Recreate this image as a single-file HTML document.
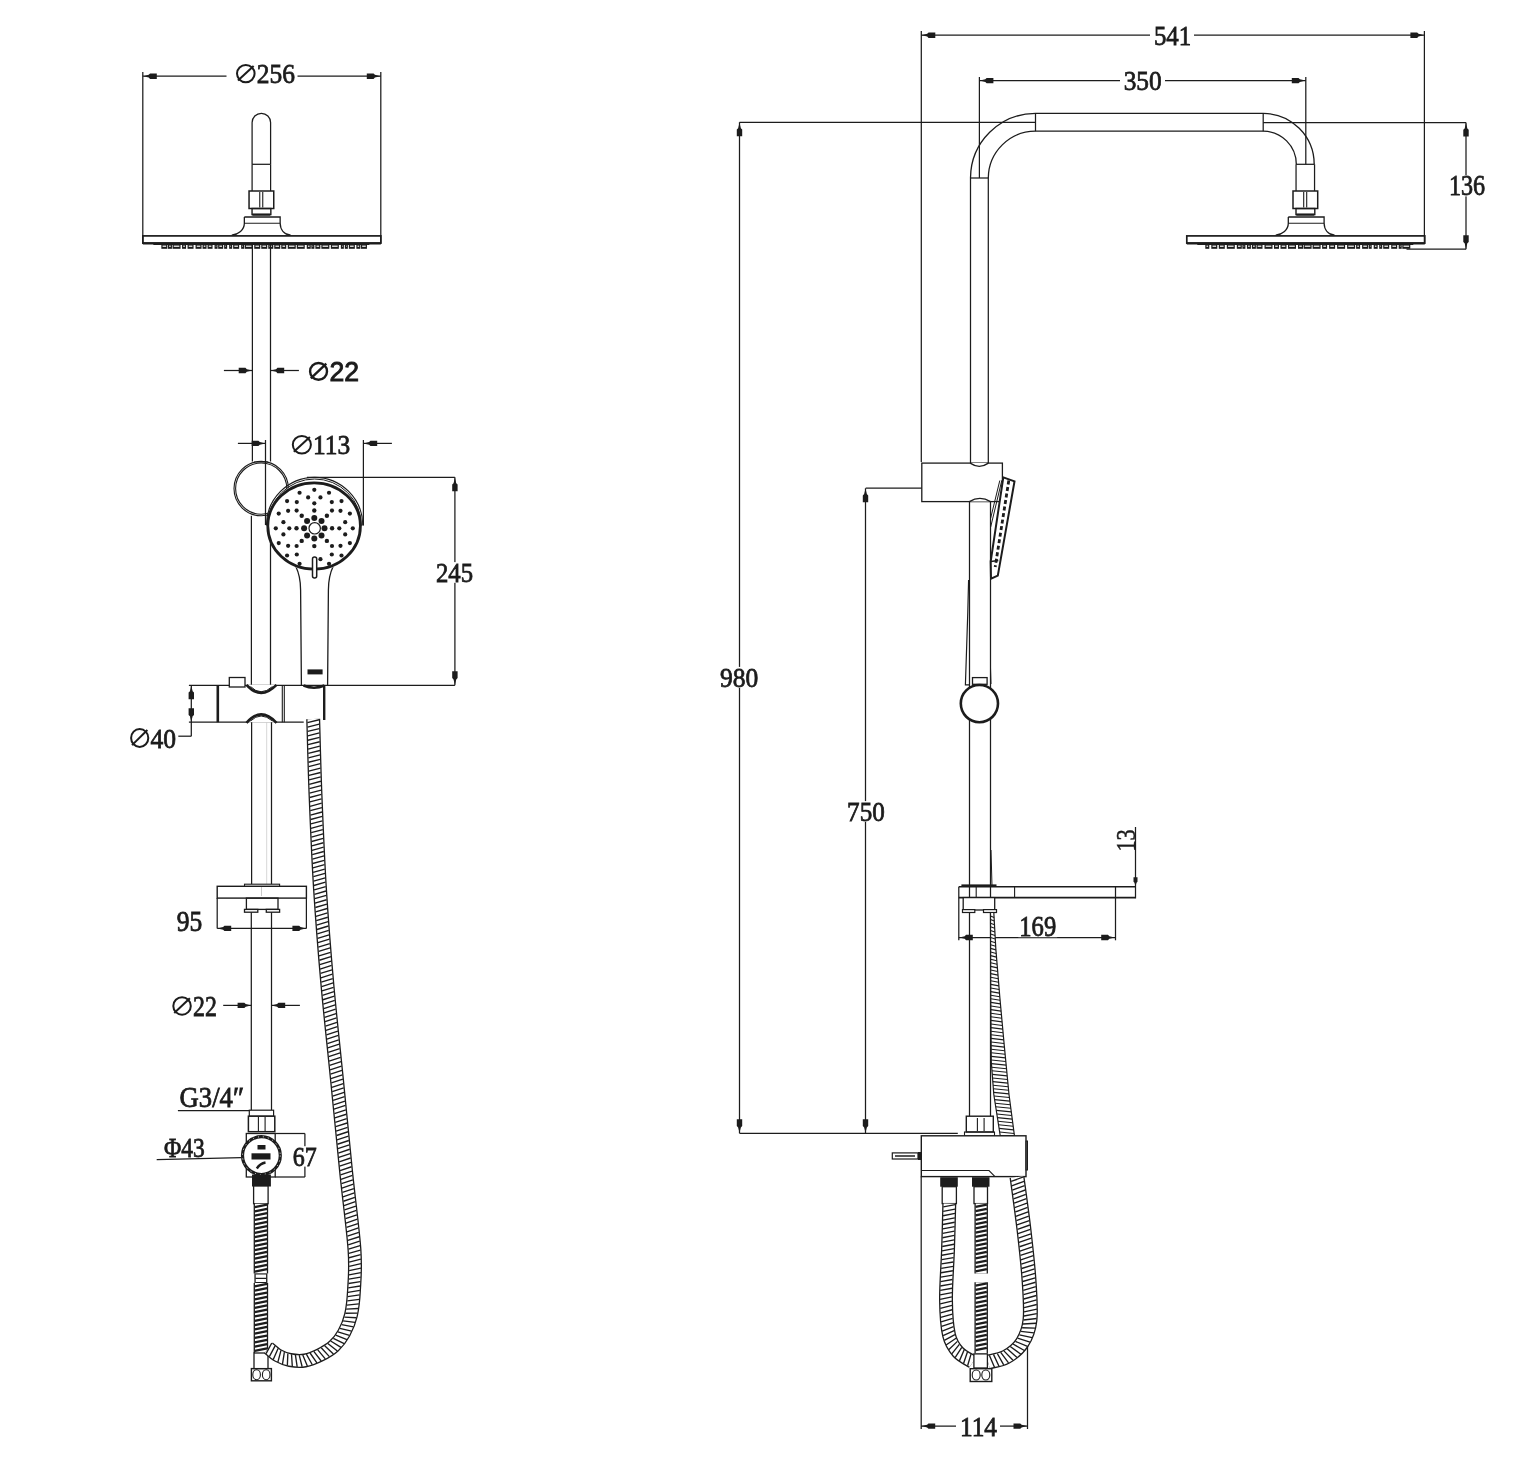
<!DOCTYPE html>
<html><head><meta charset="utf-8"><style>
html,body{margin:0;padding:0;background:#fff;}
body{width:1519px;height:1481px;overflow:hidden;}
svg{display:block;will-change:transform;}
</style></head><body>
<svg width="1519" height="1481" viewBox="0 0 1519 1481">
<rect width="1519" height="1481" fill="#fff"/>
<line x1="142.8" y1="72" x2="142.8" y2="243.5" stroke="#1c1c1c" stroke-width="1.25" />
<line x1="380.8" y1="72" x2="380.8" y2="243.5" stroke="#1c1c1c" stroke-width="1.25" />
<line x1="142.8" y1="76.2" x2="226.5" y2="76.2" stroke="#1c1c1c" stroke-width="1.25" />
<line x1="297.5" y1="76.2" x2="380.8" y2="76.2" stroke="#1c1c1c" stroke-width="1.25" />
<path d="M143.3,76.2 L148.7,74.85 L150.05,73.5 L156.8,73.5 L156.8,78.9 L150.05,78.9 L148.7,77.55 Z" fill="#1c1c1c"/>
<path d="M380.3,76.2 L374.9,77.55 L373.55,78.9 L366.8,78.9 L366.8,73.5 L373.55,73.5 L374.9,74.85 Z" fill="#1c1c1c"/>
<rect x="235" y="63" width="61" height="21.2" fill="#fff"/>
<ellipse cx="245.8" cy="73.6" rx="8.8" ry="8.6" stroke="#1c1c1c" stroke-width="2.0" fill="none"/>
<line x1="237.96" y1="80.51" x2="253.64" y2="65.92" stroke="#1c1c1c" stroke-width="2.0"/>
<text x="256.8" y="82.9" font-family="Liberation Serif" font-size="27.91" font-weight="normal" textLength="38.2" lengthAdjust="spacingAndGlyphs" fill="#1c1c1c" stroke="#1c1c1c" stroke-width="0.8" >256</text>
<path d="M252.1,164.3 V122.55 A9.25,9.25 0 0 1 270.6,122.55 V164.3" stroke="#1c1c1c" stroke-width="1.25" fill="none" />
<line x1="252.1" y1="164.3" x2="270.6" y2="164.3" stroke="#1c1c1c" stroke-width="1.25" />
<line x1="252.1" y1="164.3" x2="252.1" y2="191" stroke="#1c1c1c" stroke-width="1.25" />
<line x1="270.6" y1="164.3" x2="270.6" y2="191" stroke="#1c1c1c" stroke-width="1.25" />
<rect x="249.05" y="191" width="24.7" height="17.5" stroke="#1c1c1c" stroke-width="1.5" fill="none" />
<line x1="259.75" y1="192" x2="259.75" y2="207.5" stroke="#1c1c1c" stroke-width="1.1" />
<line x1="262.75" y1="192" x2="262.75" y2="207.5" stroke="#1c1c1c" stroke-width="1.1" />
<rect x="252.05" y="208.5" width="18.8" height="6.1" stroke="#1c1c1c" stroke-width="1.4" fill="none" />
<line x1="252.35" y1="214.6" x2="270.35" y2="214.6" stroke="#1c1c1c" stroke-width="2.2" />
<path d="M244.35,217 H280.15 V223.3 C280.35,230 284.35,234.6 290.65,235.2 M244.35,217 V223.3 C244.35,230 238.35,234.6 231.75,235.2" stroke="#1c1c1c" stroke-width="1.3" fill="none" />
<line x1="244.35" y1="223.3" x2="280.15" y2="223.3" stroke="#1c1c1c" stroke-width="1.1" />
<rect x="142.85" y="235.9" width="238" height="7.2" stroke="#1c1c1c" stroke-width="1.7" fill="none" />
<line x1="142.85" y1="243.3" x2="380.85" y2="243.3" stroke="#1c1c1c" stroke-width="2.2" />
<line x1="153.35" y1="244.3" x2="369.35" y2="244.3" stroke="#1c1c1c" stroke-width="1.2" />
<rect x="161.35" y="243.8" width="6" height="5" fill="#1c1c1c"/>
<rect x="162.55" y="245.6" width="3.6" height="1.2" fill="#fff"/>
<rect x="167.95" y="243.8" width="4" height="5" fill="#1c1c1c"/>
<rect x="169.15" y="245.6" width="1.6" height="1.2" fill="#fff"/>
<rect x="172.55" y="243.8" width="8" height="5" fill="#1c1c1c"/>
<rect x="173.75" y="245.6" width="5.6" height="1.2" fill="#fff"/>
<rect x="182.05" y="243.8" width="4" height="5" fill="#1c1c1c"/>
<rect x="183.25" y="245.6" width="1.6" height="1.2" fill="#fff"/>
<rect x="187.55" y="243.8" width="6" height="5" fill="#1c1c1c"/>
<rect x="188.75" y="245.6" width="3.6" height="1.2" fill="#fff"/>
<rect x="195.55" y="243.8" width="6" height="5" fill="#1c1c1c"/>
<rect x="196.75" y="245.6" width="3.6" height="1.2" fill="#fff"/>
<rect x="202.55" y="243.8" width="4" height="5" fill="#1c1c1c"/>
<rect x="203.75" y="245.6" width="1.6" height="1.2" fill="#fff"/>
<rect x="207.55" y="243.8" width="5" height="5" fill="#1c1c1c"/>
<rect x="208.75" y="245.6" width="2.6" height="1.2" fill="#fff"/>
<rect x="214.55" y="243.8" width="3" height="5" fill="#1c1c1c"/>
<rect x="215.75" y="245.6" width="0.6" height="1.2" fill="#fff"/>
<rect x="218.15" y="243.8" width="5" height="5" fill="#1c1c1c"/>
<rect x="219.35" y="245.6" width="2.6" height="1.2" fill="#fff"/>
<rect x="224.15" y="243.8" width="3" height="5" fill="#1c1c1c"/>
<rect x="225.35" y="245.6" width="0.6" height="1.2" fill="#fff"/>
<rect x="229.15" y="243.8" width="3" height="5" fill="#1c1c1c"/>
<rect x="230.35" y="245.6" width="0.6" height="1.2" fill="#fff"/>
<rect x="233.15" y="243.8" width="6" height="5" fill="#1c1c1c"/>
<rect x="234.35" y="245.6" width="3.6" height="1.2" fill="#fff"/>
<rect x="241.15" y="243.8" width="3" height="5" fill="#1c1c1c"/>
<rect x="242.35" y="245.6" width="0.6" height="1.2" fill="#fff"/>
<rect x="244.75" y="243.8" width="8" height="5" fill="#1c1c1c"/>
<rect x="245.95" y="245.6" width="5.6" height="1.2" fill="#fff"/>
<rect x="254.25" y="243.8" width="6" height="5" fill="#1c1c1c"/>
<rect x="255.45" y="245.6" width="3.6" height="1.2" fill="#fff"/>
<rect x="261.25" y="243.8" width="6" height="5" fill="#1c1c1c"/>
<rect x="262.45" y="245.6" width="3.6" height="1.2" fill="#fff"/>
<rect x="268.25" y="243.8" width="5" height="5" fill="#1c1c1c"/>
<rect x="269.45" y="245.6" width="2.6" height="1.2" fill="#fff"/>
<rect x="274.25" y="243.8" width="6" height="5" fill="#1c1c1c"/>
<rect x="275.45" y="245.6" width="3.6" height="1.2" fill="#fff"/>
<rect x="281.25" y="243.8" width="5" height="5" fill="#1c1c1c"/>
<rect x="282.45" y="245.6" width="2.6" height="1.2" fill="#fff"/>
<rect x="287.75" y="243.8" width="8" height="5" fill="#1c1c1c"/>
<rect x="288.95" y="245.6" width="5.6" height="1.2" fill="#fff"/>
<rect x="296.75" y="243.8" width="8" height="5" fill="#1c1c1c"/>
<rect x="297.95" y="245.6" width="5.6" height="1.2" fill="#fff"/>
<rect x="306.75" y="243.8" width="4" height="5" fill="#1c1c1c"/>
<rect x="307.95" y="245.6" width="1.6" height="1.2" fill="#fff"/>
<rect x="311.35" y="243.8" width="3" height="5" fill="#1c1c1c"/>
<rect x="312.55" y="245.6" width="0.6" height="1.2" fill="#fff"/>
<rect x="315.35" y="243.8" width="5" height="5" fill="#1c1c1c"/>
<rect x="316.55" y="245.6" width="2.6" height="1.2" fill="#fff"/>
<rect x="321.35" y="243.8" width="8" height="5" fill="#1c1c1c"/>
<rect x="322.55" y="245.6" width="5.6" height="1.2" fill="#fff"/>
<rect x="330.85" y="243.8" width="8" height="5" fill="#1c1c1c"/>
<rect x="332.05" y="245.6" width="5.6" height="1.2" fill="#fff"/>
<rect x="340.85" y="243.8" width="3" height="5" fill="#1c1c1c"/>
<rect x="342.05" y="245.6" width="0.6" height="1.2" fill="#fff"/>
<rect x="344.85" y="243.8" width="3" height="5" fill="#1c1c1c"/>
<rect x="346.05" y="245.6" width="0.6" height="1.2" fill="#fff"/>
<rect x="348.85" y="243.8" width="6" height="5" fill="#1c1c1c"/>
<rect x="350.05" y="245.6" width="3.6" height="1.2" fill="#fff"/>
<rect x="356.35" y="243.8" width="4" height="5" fill="#1c1c1c"/>
<rect x="357.55" y="245.6" width="1.6" height="1.2" fill="#fff"/>
<rect x="360.95" y="243.8" width="6" height="5" fill="#1c1c1c"/>
<rect x="362.15" y="245.6" width="3.6" height="1.2" fill="#fff"/>
<line x1="252.4" y1="243.5" x2="252.4" y2="461.5" stroke="#1c1c1c" stroke-width="1.25" />
<line x1="270.5" y1="243.5" x2="270.5" y2="461.5" stroke="#1c1c1c" stroke-width="1.25" />
<line x1="251.4" y1="515.8" x2="251.4" y2="685.3" stroke="#1c1c1c" stroke-width="1.25" />
<line x1="270.5" y1="540" x2="270.5" y2="685.3" stroke="#1c1c1c" stroke-width="1.25" />
<line x1="265.5" y1="440" x2="265.5" y2="525" stroke="#1c1c1c" stroke-width="1.25" />
<line x1="223.9" y1="370.5" x2="252.4" y2="370.5" stroke="#1c1c1c" stroke-width="1.25" />
<path d="M252.2,370.5 L246.8,371.85 L245.45,373.2 L238.7,373.2 L238.7,367.8 L245.45,367.8 L246.8,369.15 Z" fill="#1c1c1c"/>
<line x1="270.5" y1="370.5" x2="298.9" y2="370.5" stroke="#1c1c1c" stroke-width="1.25" />
<path d="M270.7,370.5 L276.1,369.15 L277.45,367.8 L284.2,367.8 L284.2,373.2 L277.45,373.2 L276.1,371.85 Z" fill="#1c1c1c"/>
<rect x="307.9" y="360.8" width="52.1" height="21.2" fill="#fff"/>
<ellipse cx="318.55" cy="371.4" rx="8.45" ry="8.4" stroke="#1c1c1c" stroke-width="2.4" fill="none"/>
<line x1="310.83" y1="378.31" x2="326.27" y2="363.72" stroke="#1c1c1c" stroke-width="2.4"/>
<text x="329.4" y="381" font-family="Liberation Sans" font-size="26.82" font-weight="normal" textLength="29.6" lengthAdjust="spacingAndGlyphs" fill="#1c1c1c" stroke="#1c1c1c" stroke-width="0.9" >22</text>
<line x1="237.9" y1="443.4" x2="265.5" y2="443.4" stroke="#1c1c1c" stroke-width="1.25" />
<path d="M265.2,443.4 L259.8,444.75 L258.45,446.1 L251.7,446.1 L251.7,440.7 L258.45,440.7 L259.8,442.05 Z" fill="#1c1c1c"/>
<line x1="363.4" y1="440" x2="363.4" y2="525.5" stroke="#1c1c1c" stroke-width="1.25" />
<line x1="363.4" y1="443.4" x2="391.9" y2="443.4" stroke="#1c1c1c" stroke-width="1.25" />
<path d="M363.7,443.4 L369.1,442.05 L370.45,440.7 L377.2,440.7 L377.2,446.1 L370.45,446.1 L369.1,444.75 Z" fill="#1c1c1c"/>
<rect x="290.8" y="434" width="60.5" height="21.5" fill="#fff"/>
<ellipse cx="301.85" cy="444.75" rx="9.05" ry="8.75" stroke="#1c1c1c" stroke-width="2.0" fill="none"/>
<line x1="293.81" y1="451.77" x2="309.89" y2="436.95" stroke="#1c1c1c" stroke-width="2.0"/>
<text x="313.1" y="454" font-family="Liberation Serif" font-size="28.36" font-weight="normal" textLength="37.2" lengthAdjust="spacingAndGlyphs" fill="#1c1c1c" stroke="#1c1c1c" stroke-width="0.8" >113</text>
<circle cx="261.2" cy="488.6" r="27.2" stroke="#1c1c1c" stroke-width="1.1" fill="none" />
<circle cx="261.2" cy="488.6" r="25.6" stroke="#1c1c1c" stroke-width="1.1" fill="none" />
<line x1="254" y1="462" x2="268.2" y2="462" stroke="#1c1c1c" stroke-width="1.0" />
<path d="M295.6,566 C299.5,574 300.6,580 300.6,590 L301.4,685.3 M333.3,566 C329.5,574 328.4,580 328.4,590 L327.6,685.3" stroke="#1c1c1c" stroke-width="1.3" fill="#fff" />
<ellipse cx="314.2" cy="525.9" rx="47.5" ry="45" fill="#fff"/>
<path d="M266.4,525.5 A48.2,48.2 0 0 1 362.8,525.5" stroke="#1c1c1c" stroke-width="1.2" fill="none" />
<path d="M267.8,525.8 A46.8,46.8 0 0 1 361.4,525.8" stroke="#1c1c1c" stroke-width="1.0" fill="none" />
<ellipse cx="314.1" cy="526" rx="46.3" ry="43.2" stroke="#1c1c1c" stroke-width="2.8" fill="none"/>
<line x1="306.9" y1="477.3" x2="454.9" y2="477.3" stroke="#1c1c1c" stroke-width="1.25" />
<circle cx="314.3" cy="518.1" r="3" fill="#1c1c1c"/>
<circle cx="314.3" cy="510.5" r="2.2" fill="#1c1c1c"/>
<circle cx="314.3" cy="503.3" r="2.1" fill="#1c1c1c"/>
<circle cx="321.51" cy="521.09" r="3" fill="#1c1c1c"/>
<circle cx="326.89" cy="515.71" r="2.2" fill="#1c1c1c"/>
<circle cx="331.98" cy="510.62" r="2.1" fill="#1c1c1c"/>
<circle cx="324.5" cy="528.3" r="3" fill="#1c1c1c"/>
<circle cx="332.1" cy="528.3" r="2.2" fill="#1c1c1c"/>
<circle cx="339.3" cy="528.3" r="2.1" fill="#1c1c1c"/>
<circle cx="321.51" cy="535.51" r="3" fill="#1c1c1c"/>
<circle cx="326.89" cy="540.89" r="2.2" fill="#1c1c1c"/>
<circle cx="331.98" cy="545.98" r="2.1" fill="#1c1c1c"/>
<circle cx="314.3" cy="538.5" r="3" fill="#1c1c1c"/>
<circle cx="314.3" cy="546.1" r="2.2" fill="#1c1c1c"/>
<circle cx="307.09" cy="535.51" r="3" fill="#1c1c1c"/>
<circle cx="301.71" cy="540.89" r="2.2" fill="#1c1c1c"/>
<circle cx="296.62" cy="545.98" r="2.1" fill="#1c1c1c"/>
<circle cx="304.1" cy="528.3" r="3" fill="#1c1c1c"/>
<circle cx="296.5" cy="528.3" r="2.2" fill="#1c1c1c"/>
<circle cx="289.3" cy="528.3" r="2.1" fill="#1c1c1c"/>
<circle cx="307.09" cy="521.09" r="3" fill="#1c1c1c"/>
<circle cx="301.71" cy="515.71" r="2.2" fill="#1c1c1c"/>
<circle cx="296.62" cy="510.62" r="2.1" fill="#1c1c1c"/>
<circle cx="314.3" cy="489.8" r="2.1" fill="#1c1c1c"/>
<circle cx="320.45" cy="497.41" r="2.1" fill="#1c1c1c"/>
<circle cx="329.03" cy="492.73" r="2.1" fill="#1c1c1c"/>
<circle cx="331.8" cy="502.11" r="2.1" fill="#1c1c1c"/>
<circle cx="341.52" cy="501.08" r="2.1" fill="#1c1c1c"/>
<circle cx="340.49" cy="510.8" r="2.1" fill="#1c1c1c"/>
<circle cx="349.87" cy="513.57" r="2.1" fill="#1c1c1c"/>
<circle cx="345.19" cy="522.15" r="2.1" fill="#1c1c1c"/>
<circle cx="352.8" cy="528.3" r="2.1" fill="#1c1c1c"/>
<circle cx="345.19" cy="534.45" r="2.1" fill="#1c1c1c"/>
<circle cx="349.87" cy="543.03" r="2.1" fill="#1c1c1c"/>
<circle cx="340.49" cy="545.8" r="2.1" fill="#1c1c1c"/>
<circle cx="341.52" cy="555.52" r="2.1" fill="#1c1c1c"/>
<circle cx="331.8" cy="554.49" r="2.1" fill="#1c1c1c"/>
<circle cx="329.03" cy="563.87" r="2.1" fill="#1c1c1c"/>
<circle cx="320.45" cy="559.19" r="2.1" fill="#1c1c1c"/>
<circle cx="299.57" cy="563.87" r="2.1" fill="#1c1c1c"/>
<circle cx="296.8" cy="554.49" r="2.1" fill="#1c1c1c"/>
<circle cx="287.08" cy="555.52" r="2.1" fill="#1c1c1c"/>
<circle cx="288.11" cy="545.8" r="2.1" fill="#1c1c1c"/>
<circle cx="278.73" cy="543.03" r="2.1" fill="#1c1c1c"/>
<circle cx="283.41" cy="534.45" r="2.1" fill="#1c1c1c"/>
<circle cx="275.8" cy="528.3" r="2.1" fill="#1c1c1c"/>
<circle cx="283.41" cy="522.15" r="2.1" fill="#1c1c1c"/>
<circle cx="278.73" cy="513.57" r="2.1" fill="#1c1c1c"/>
<circle cx="288.11" cy="510.8" r="2.1" fill="#1c1c1c"/>
<circle cx="287.08" cy="501.08" r="2.1" fill="#1c1c1c"/>
<circle cx="296.8" cy="502.11" r="2.1" fill="#1c1c1c"/>
<circle cx="299.57" cy="492.73" r="2.1" fill="#1c1c1c"/>
<circle cx="308.15" cy="497.41" r="2.1" fill="#1c1c1c"/>
<circle cx="314.7" cy="528.3" r="5.7" stroke="#1c1c1c" stroke-width="1.2" fill="#fff" />
<rect x="312.5" y="557" width="4.2" height="21" stroke="#1c1c1c" stroke-width="1.5" fill="#fff" rx="2"/>
<rect x="307.5" y="669.4" width="15.1" height="5" fill="#1c1c1c"/>
<line x1="454.9" y1="477.3" x2="454.9" y2="685.3" stroke="#1c1c1c" stroke-width="1.25" />
<path d="M454.9,477.8 L456.25,483.2 L457.6,484.55 L457.6,491.3 L452.2,491.3 L452.2,484.55 L453.55,483.2 Z" fill="#1c1c1c"/>
<path d="M454.9,684.8 L453.55,679.4 L452.2,678.05 L452.2,671.3 L457.6,671.3 L457.6,678.05 L456.25,679.4 Z" fill="#1c1c1c"/>
<rect x="434.9" y="562.1" width="39.1" height="20.7" fill="#fff"/>
<text x="435.9" y="581.8" font-family="Liberation Serif" font-size="27.91" font-weight="normal" textLength="37.1" lengthAdjust="spacingAndGlyphs" fill="#1c1c1c" stroke="#1c1c1c" stroke-width="0.8" >245</text>
<line x1="188.9" y1="685.3" x2="454.9" y2="685.3" stroke="#1c1c1c" stroke-width="1.25" />
<line x1="188.9" y1="722.2" x2="303.7" y2="722.2" stroke="#1c1c1c" stroke-width="1.25" />
<line x1="217.8" y1="685.3" x2="217.8" y2="722.2" stroke="#1c1c1c" stroke-width="2.6" />
<line x1="324.2" y1="686" x2="324.2" y2="720" stroke="#1c1c1c" stroke-width="2.4" />
<line x1="282.3" y1="685.3" x2="282.3" y2="722.2" stroke="#1c1c1c" stroke-width="1.1" />
<line x1="284.3" y1="685.3" x2="284.3" y2="722.2" stroke="#1c1c1c" stroke-width="1.1" />
<path d="M246.5,684.8 Q260.8,701 276.5,684.8" stroke="#1c1c1c" stroke-width="2.6" fill="#fff" />
<path d="M250.5,686.5 Q260.8,697 272.5,686.5" stroke="#1c1c1c" stroke-width="1.0" fill="none" />
<path d="M246.5,722.8 Q260.8,706 276.5,722.8" stroke="#1c1c1c" stroke-width="2.6" fill="#fff" />
<path d="M250.5,721 Q260.8,711 272.5,721" stroke="#1c1c1c" stroke-width="1.0" fill="none" />
<rect x="229.3" y="677.5" width="15.7" height="9.5" stroke="#1c1c1c" stroke-width="1.3" fill="#fff" />
<path d="M303.5,685.5 Q314,690 324.5,685.5" stroke="#1c1c1c" stroke-width="2.5" fill="none" />
<line x1="191.3" y1="685.3" x2="191.3" y2="736.2" stroke="#1c1c1c" stroke-width="1.25" />
<path d="M191.3,685.8 L192.65,691.2 L194,692.55 L194,699.3 L188.6,699.3 L188.6,692.55 L189.95,691.2 Z" fill="#1c1c1c"/>
<path d="M191.3,721.7 L189.95,716.3 L188.6,714.95 L188.6,708.2 L194,708.2 L194,714.95 L192.65,716.3 Z" fill="#1c1c1c"/>
<line x1="191.3" y1="736.2" x2="178.3" y2="736.2" stroke="#1c1c1c" stroke-width="1.25" />
<rect x="129.1" y="727" width="48" height="21.9" fill="#fff"/>
<ellipse cx="139.7" cy="737.95" rx="8.6" ry="8.95" stroke="#1c1c1c" stroke-width="2.0" fill="none"/>
<line x1="132.02" y1="745.11" x2="147.38" y2="729.99" stroke="#1c1c1c" stroke-width="2.0"/>
<text x="150.5" y="747.9" font-family="Liberation Serif" font-size="28.21" font-weight="normal" textLength="25.6" lengthAdjust="spacingAndGlyphs" fill="#1c1c1c" stroke="#1c1c1c" stroke-width="0.8" >40</text>
<line x1="251.6" y1="722.2" x2="251.6" y2="884.5" stroke="#1c1c1c" stroke-width="1.25" />
<line x1="271.5" y1="722.2" x2="271.5" y2="884.5" stroke="#1c1c1c" stroke-width="1.25" />
<line x1="266.7" y1="722.2" x2="266.7" y2="884.5" stroke="#ccc" stroke-width="0.8" />
<rect x="244.5" y="884.2" width="35.1" height="2.3" stroke="#1c1c1c" stroke-width="1.1" fill="#fff" />
<rect x="217.2" y="886.3" width="89.2" height="11.8" stroke="#1c1c1c" stroke-width="1.4" fill="#fff" />
<line x1="261.5" y1="887" x2="261.5" y2="896" stroke="#bbb" stroke-width="0.8" />
<line x1="217.2" y1="898.1" x2="217.2" y2="928.5" stroke="#1c1c1c" stroke-width="1.25" />
<line x1="306.4" y1="898.1" x2="306.4" y2="928.5" stroke="#1c1c1c" stroke-width="1.25" />
<rect x="246.4" y="898.1" width="31.6" height="11.3" stroke="#1c1c1c" stroke-width="1.3" fill="none" />
<rect x="244.5" y="909.4" width="13.3" height="2.8" stroke="#1c1c1c" stroke-width="1.3" fill="#fff" />
<rect x="266.3" y="909.4" width="13.3" height="2.8" stroke="#1c1c1c" stroke-width="1.3" fill="#fff" />
<line x1="217.2" y1="928.4" x2="306.4" y2="928.4" stroke="#1c1c1c" stroke-width="1.25" />
<path d="M217.7,928.4 L223.1,927.05 L224.45,925.7 L231.2,925.7 L231.2,931.1 L224.45,931.1 L223.1,929.75 Z" fill="#1c1c1c"/>
<path d="M305.9,928.4 L300.5,929.75 L299.15,931.1 L292.4,931.1 L292.4,925.7 L299.15,925.7 L300.5,927.05 Z" fill="#1c1c1c"/>
<rect x="175.8" y="910.9" width="27.5" height="21.1" fill="#fff"/>
<text x="176.8" y="931" font-family="Liberation Serif" font-size="28.51" font-weight="normal" textLength="25.5" lengthAdjust="spacingAndGlyphs" fill="#1c1c1c" stroke="#1c1c1c" stroke-width="0.8" >95</text>
<line x1="251.3" y1="912.2" x2="251.3" y2="1110" stroke="#1c1c1c" stroke-width="1.25" />
<line x1="271.5" y1="912.2" x2="271.5" y2="1110" stroke="#1c1c1c" stroke-width="1.25" />
<line x1="223.2" y1="1005.4" x2="251.3" y2="1005.4" stroke="#1c1c1c" stroke-width="1.25" />
<path d="M251.1,1005.4 L245.7,1006.75 L244.35,1008.1 L237.6,1008.1 L237.6,1002.7 L244.35,1002.7 L245.7,1004.05 Z" fill="#1c1c1c"/>
<line x1="271.5" y1="1005.4" x2="299.9" y2="1005.4" stroke="#1c1c1c" stroke-width="1.25" />
<path d="M271.7,1005.4 L277.1,1004.05 L278.45,1002.7 L285.2,1002.7 L285.2,1008.1 L278.45,1008.1 L277.1,1006.75 Z" fill="#1c1c1c"/>
<rect x="171.3" y="995.2" width="46.6" height="21.5" fill="#fff"/>
<ellipse cx="182.05" cy="1005.95" rx="8.75" ry="8.75" stroke="#1c1c1c" stroke-width="2.0" fill="none"/>
<line x1="174.25" y1="1012.97" x2="189.85" y2="998.15" stroke="#1c1c1c" stroke-width="2.0"/>
<text x="193" y="1015.7" font-family="Liberation Serif" font-size="28.51" font-weight="normal" textLength="23.9" lengthAdjust="spacingAndGlyphs" fill="#1c1c1c" stroke="#1c1c1c" stroke-width="0.8" >22</text>
<rect x="178.6" y="1086.8" width="66.4" height="21.1" fill="#fff"/>
<text x="179.6" y="1106.9" font-family="Liberation Serif" font-size="28.51" font-weight="normal" textLength="64.4" lengthAdjust="spacingAndGlyphs" fill="#1c1c1c" stroke="#1c1c1c" stroke-width="0.8" >G3/4″</text>
<line x1="177.9" y1="1110.6" x2="251.4" y2="1110.6" stroke="#1c1c1c" stroke-width="1.25" />
<rect x="249.3" y="1110.2" width="24.3" height="6" stroke="#1c1c1c" stroke-width="1.2" fill="#fff" />
<rect x="248.4" y="1116.2" width="26.4" height="15.5" stroke="#1c1c1c" stroke-width="1.5" fill="#fff" />
<line x1="258.4" y1="1117" x2="258.4" y2="1131" stroke="#1c1c1c" stroke-width="1.1" />
<line x1="265.1" y1="1117" x2="265.1" y2="1131" stroke="#1c1c1c" stroke-width="1.1" />
<rect x="246.3" y="1133.5" width="28.9" height="43.5" stroke="#1c1c1c" stroke-width="1.3" fill="#fff" />
<line x1="275.2" y1="1133.5" x2="304.9" y2="1133.5" stroke="#1c1c1c" stroke-width="1.25" />
<line x1="275.2" y1="1177" x2="304.9" y2="1177" stroke="#1c1c1c" stroke-width="1.25" />
<line x1="304.9" y1="1133.5" x2="304.9" y2="1177" stroke="#1c1c1c" stroke-width="1.25" />
<rect x="291.7" y="1146.2" width="26" height="20.4" fill="#fff"/>
<text x="292.7" y="1165.6" font-family="Liberation Serif" font-size="27.46" font-weight="normal" textLength="24" lengthAdjust="spacingAndGlyphs" fill="#1c1c1c" stroke="#1c1c1c" stroke-width="0.8" >67</text>
<rect x="163" y="1137.2" width="42.8" height="20.8" fill="#fff"/>
<text x="164" y="1157" font-family="Liberation Serif" font-size="28.06" font-weight="normal" textLength="40.8" lengthAdjust="spacingAndGlyphs" fill="#1c1c1c" stroke="#1c1c1c" stroke-width="0.8" >Φ43</text>
<line x1="156.7" y1="1159.6" x2="241.4" y2="1157.6" stroke="#1c1c1c" stroke-width="1.25" />
<circle cx="261.4" cy="1155.6" r="18.9" stroke="#1c1c1c" stroke-width="3.2" fill="#fff" />
<circle cx="261.4" cy="1155.6" r="18.9" stroke="#fff" stroke-width="0.9" fill="none" stroke-dasharray="1 4"/>
<rect x="257.5" y="1145" width="8" height="4.5" fill="#1c1c1c"/>
<rect x="251.5" y="1153.3" width="19" height="6.2" fill="#1c1c1c"/>
<path d="M256.8,1168.5 Q260,1163.5 265.5,1162.5" stroke="#1c1c1c" stroke-width="2.4" fill="none" />
<rect x="252" y="1174.5" width="18.9" height="12" fill="#1c1c1c"/>
<rect x="253.6" y="1186" width="14.5" height="17.7" stroke="#1c1c1c" stroke-width="1.3" fill="#fff" />
<path d="M260.9,1203.7 C260.9,1215.33 260.9,1261.87 260.9,1273.5" stroke="#1c1c1c" stroke-width="14.5" fill="none" stroke-linecap="butt"/>
<path d="M260.9,1203.7 C260.9,1215.33 260.9,1261.87 260.9,1273.5" stroke="#fff" stroke-width="11.9" fill="none" stroke-linecap="butt"/>
<path d="M267.05,1204.62 L254.75,1207.08 M267.05,1208.92 L254.75,1211.38 M267.05,1213.22 L254.75,1215.68 M267.05,1217.52 L254.75,1219.98 M267.05,1221.82 L254.75,1224.28 M267.05,1226.12 L254.75,1228.58 M267.05,1230.42 L254.75,1232.88 M267.05,1234.72 L254.75,1237.18 M267.05,1239.02 L254.75,1241.48 M267.05,1243.32 L254.75,1245.78 M267.05,1247.62 L254.75,1250.08 M267.05,1251.92 L254.75,1254.38 M267.05,1256.22 L254.75,1258.68 M267.05,1260.52 L254.75,1262.98 M267.05,1264.82 L254.75,1267.28 M267.05,1269.12 L254.75,1271.58" stroke="#1c1c1c" stroke-width="2.3" fill="none"/>
<path d="M260.9,1273.5 C260.9,1275.08 260.9,1281.42 260.9,1283" stroke="#1c1c1c" stroke-width="13" fill="none" stroke-linecap="butt"/>
<path d="M260.9,1273.5 C260.9,1275.08 260.9,1281.42 260.9,1283" stroke="#fff" stroke-width="10.4" fill="none" stroke-linecap="butt"/>
<path d="M260.9,1273.5 C260.9,1275.08 260.9,1281.42 260.9,1283" stroke="#1c1c1c" stroke-width="11" fill="none" stroke-dasharray="1.2 3" stroke-linecap="butt"/>
<path d="M260.9,1283 C260.9,1294.67 260.9,1341.33 260.9,1353" stroke="#1c1c1c" stroke-width="14.5" fill="none" stroke-linecap="butt"/>
<path d="M260.9,1283 C260.9,1294.67 260.9,1341.33 260.9,1353" stroke="#fff" stroke-width="11.9" fill="none" stroke-linecap="butt"/>
<path d="M267.05,1283.92 L254.75,1286.38 M267.05,1288.22 L254.75,1290.68 M267.05,1292.52 L254.75,1294.98 M267.05,1296.82 L254.75,1299.28 M267.05,1301.12 L254.75,1303.58 M267.05,1305.42 L254.75,1307.88 M267.05,1309.72 L254.75,1312.18 M267.05,1314.02 L254.75,1316.48 M267.05,1318.32 L254.75,1320.78 M267.05,1322.62 L254.75,1325.08 M267.05,1326.92 L254.75,1329.38 M267.05,1331.22 L254.75,1333.68 M267.05,1335.52 L254.75,1337.98 M267.05,1339.82 L254.75,1342.28 M267.05,1344.12 L254.75,1346.58 M267.05,1348.42 L254.75,1350.88" stroke="#1c1c1c" stroke-width="2.3" fill="none"/>
<rect x="251.4" y="1368.6" width="20" height="12.2" stroke="#1c1c1c" stroke-width="1.4" fill="#fff" />
<ellipse cx="256.6" cy="1374.7" rx="3.8" ry="5" stroke="#1c1c1c" stroke-width="1.1" fill="none"/>
<ellipse cx="266.2" cy="1374.7" rx="3.8" ry="5" stroke="#1c1c1c" stroke-width="1.1" fill="none"/>
<rect x="254" y="1353" width="14" height="15.6" stroke="#1c1c1c" stroke-width="1.3" fill="#fff" />
<path d="M313.2,719 C313.58,731.6 314.37,766.27 315.5,794.6 C316.63,822.93 318.03,857.5 320,889 C321.97,920.5 324.5,952.1 327.3,983.6 C330.1,1015.1 333.65,1046.48 336.8,1078 C339.95,1109.52 343.25,1144.03 346.2,1172.7 C349.15,1201.37 353.2,1230.45 354.5,1250 C355.8,1269.55 354.58,1279.17 354,1290 C353.42,1300.83 352.67,1307.83 351,1315 C349.33,1322.17 346.83,1327.83 344,1333 C341.17,1338.17 338,1342.33 334,1346 C330,1349.67 324.83,1352.58 320,1355 C315.17,1357.42 310,1359.67 305,1360.5 C300,1361.33 294.5,1360.83 290,1360 C285.5,1359.17 281.58,1357.5 278,1355.5 C274.42,1353.5 270.08,1349.25 268.5,1348" stroke="#1c1c1c" stroke-width="14" fill="none" stroke-linecap="butt"/>
<path d="M313.2,719 C313.58,731.6 314.37,766.27 315.5,794.6 C316.63,822.93 318.03,857.5 320,889 C321.97,920.5 324.5,952.1 327.3,983.6 C330.1,1015.1 333.65,1046.48 336.8,1078 C339.95,1109.52 343.25,1144.03 346.2,1172.7 C349.15,1201.37 353.2,1230.45 354.5,1250 C355.8,1269.55 354.58,1279.17 354,1290 C353.42,1300.83 352.67,1307.83 351,1315 C349.33,1322.17 346.83,1327.83 344,1333 C341.17,1338.17 338,1342.33 334,1346 C330,1349.67 324.83,1352.58 320,1355 C315.17,1357.42 310,1359.67 305,1360.5 C300,1361.33 294.5,1360.83 290,1360 C285.5,1359.17 281.58,1357.5 278,1355.5 C274.42,1353.5 270.08,1349.25 268.5,1348" stroke="#fff" stroke-width="11.4" fill="none" stroke-linecap="butt"/>
<path d="M319.13,719.73 L307.4,722.66 M319.25,724.14 L307.52,727.06 M319.37,728.54 L307.64,731.45 M319.48,732.94 L307.76,735.85 M319.6,737.34 L307.88,740.25 M319.72,741.73 L307.99,744.65 M319.84,746.13 L308.11,749.05 M319.96,750.52 L308.24,753.45 M320.08,754.92 L308.36,757.85 M320.21,759.31 L308.49,762.26 M320.34,763.71 L308.63,766.66 M320.48,768.1 L308.76,771.06 M320.62,772.49 L308.91,775.47 M320.76,776.88 L309.05,779.87 M320.91,781.27 L309.21,784.28 M321.06,785.66 L309.37,788.68 M321.23,790.04 L309.54,793.09 M321.4,794.43 L309.71,797.5 M321.57,798.83 L309.89,801.89 M321.75,803.22 L310.07,806.29 M321.93,807.62 L310.24,810.69 M322.11,812.01 L310.43,815.09 M322.29,816.4 L310.61,819.49 M322.47,820.79 L310.79,823.89 M322.66,825.19 L310.98,828.29 M322.85,829.58 L311.18,832.69 M323.04,833.97 L311.37,837.09 M323.24,838.36 L311.57,841.49 M323.44,842.75 L311.78,845.89 M323.65,847.14 L311.98,850.29 M323.86,851.52 L312.2,854.7 M324.07,855.91 L312.42,859.09 M324.29,860.3 L312.64,863.5 M324.52,864.69 L312.87,867.9 M324.75,869.07 L313.11,872.3 M324.99,873.45 L313.36,876.71 M325.24,877.83 L313.61,881.11 M325.5,882.22 L313.87,885.51 M325.76,886.6 L314.15,889.92 M326.04,890.98 L314.43,894.32 M326.32,895.36 L314.71,898.72 M326.6,899.74 L315,903.12 M326.9,904.12 L315.3,907.52 M327.2,908.5 L315.61,911.91 M327.51,912.88 L315.92,916.31 M327.82,917.26 L316.24,920.71 M328.14,921.64 L316.57,925.11 M328.47,926.02 L316.9,929.5 M328.8,930.4 L317.23,933.9 M329.14,934.78 L317.58,938.29 M329.48,939.16 L317.92,942.68 M329.83,943.54 L318.27,947.07 M330.18,947.92 L318.63,951.47 M330.54,952.3 L318.99,955.86 M330.9,956.68 L319.36,960.25 M331.27,961.06 L319.73,964.64 M331.64,965.44 L320.1,969.03 M332.02,969.82 L320.48,973.42 M332.39,974.19 L320.87,977.81 M332.78,978.57 L321.25,982.2 M333.17,982.95 L321.64,986.59 M333.56,987.32 L322.04,990.98 M333.96,991.69 L322.45,995.37 M334.37,996.06 L322.87,999.76 M334.79,1000.43 L323.29,1004.15 M335.21,1004.8 L323.73,1008.54 M335.65,1009.17 L324.16,1012.92 M336.08,1013.54 L324.6,1017.31 M336.53,1017.91 L325.05,1021.69 M336.97,1022.29 L325.5,1026.08 M337.42,1026.66 L325.95,1030.46 M337.88,1031.03 L326.41,1034.83 M338.33,1035.41 L326.86,1039.21 M338.79,1039.78 L327.32,1043.59 M339.24,1044.16 L327.78,1047.97 M339.7,1048.54 L328.24,1052.34 M340.16,1052.91 L328.69,1056.72 M340.62,1057.29 L329.15,1061.09 M341.07,1061.67 L329.6,1065.46 M341.52,1066.05 L330.05,1069.84 M341.97,1070.44 L330.49,1074.21 M342.41,1074.82 L330.93,1078.58 M342.85,1079.2 L331.36,1082.95 M343.29,1083.58 L331.8,1087.33 M343.72,1087.96 L332.23,1091.71 M344.15,1092.34 L332.67,1096.09 M344.59,1096.72 L333.1,1100.46 M345.02,1101.1 L333.53,1104.84 M345.45,1105.48 L333.96,1109.22 M345.88,1109.86 L334.39,1113.6 M346.31,1114.24 L334.82,1117.98 M346.74,1118.62 L335.25,1122.36 M347.17,1123 L335.68,1126.73 M347.6,1127.38 L336.11,1131.11 M348.03,1131.75 L336.54,1135.49 M348.46,1136.13 L336.97,1139.87 M348.89,1140.51 L337.41,1144.25 M349.33,1144.88 L337.84,1148.63 M349.76,1149.26 L338.28,1153.02 M350.2,1153.64 L338.72,1157.4 M350.64,1158.01 L339.16,1161.78 M351.08,1162.38 L339.6,1166.16 M351.52,1166.76 L340.05,1170.54 M351.97,1171.13 L340.5,1174.93 M352.42,1175.48 L340.96,1179.32 M352.89,1179.84 L341.44,1183.71 M353.37,1184.2 L341.93,1188.1 M353.86,1188.56 L342.43,1192.48 M354.36,1192.93 L342.94,1196.86 M354.87,1197.29 L343.45,1201.24 M355.38,1201.66 L343.96,1205.61 M355.89,1206.03 L344.47,1209.98 M356.4,1210.4 L344.98,1214.35 M356.91,1214.78 L345.49,1218.71 M357.41,1219.16 L345.98,1223.07 M357.91,1223.55 L346.47,1227.43 M358.39,1227.94 L346.94,1231.79 M358.86,1232.35 L347.39,1236.13 M359.31,1236.76 L347.81,1240.48 M359.72,1241.2 L348.19,1244.8 M360.1,1245.65 L348.53,1249.12 M360.43,1250.13 L348.8,1253.42 M360.68,1254.61 L349.01,1257.73 M360.86,1259.1 L349.14,1262.03 M360.96,1263.62 L349.18,1266.31 M360.97,1268.14 L349.14,1270.59 M360.88,1272.68 L348.99,1274.84 M360.7,1277.19 L348.77,1279.13 M360.44,1281.64 L348.5,1283.46 M360.15,1286.01 L348.21,1287.87 M359.89,1290.37 L347.96,1292.3 M359.63,1294.85 L347.67,1296.61 M359.29,1299.35 L347.3,1300.88 M358.85,1303.93 L346.82,1305.05 M358.25,1308.51 L346.18,1309.18 M357.45,1313.11 L345.37,1313.22 M356.42,1317.73 L344.35,1317.16 M355.09,1322.36 L343.09,1320.95 M353.46,1326.86 L341.58,1324.66 M351.56,1331.2 L339.82,1328.32 M349.42,1335.41 L337.86,1331.9 M346.96,1339.62 L335.72,1335.18 M344.15,1343.63 L333.32,1338.27 M340.95,1347.43 L330.69,1341.05 M337.35,1350.95 L327.83,1343.5 M333.41,1354.03 L324.7,1345.66 M329.39,1356.63 L321.25,1347.7 M325.3,1358.92 L317.6,1349.61 M321.2,1360.99 L313.81,1351.43 M316.89,1362.97 L310.07,1353 M312.3,1364.72 L306.37,1354.2 M307.35,1366.08 L302.77,1354.9 M302.15,1366.77 L299.22,1355.05 M297.18,1366.79 L295.4,1354.84 M292.31,1366.35 L291.52,1354.3 M287.36,1365.5 L287.85,1353.43 M282.48,1364.06 L284.37,1352.13 M277.87,1362.11 L280.98,1350.43 M273.25,1359.52 L278.09,1348.45 M269.37,1356.56 L275.09,1345.92 M266.08,1353.68 L271.76,1343.01" stroke="#1c1c1c" stroke-width="1.35" fill="none"/>
<line x1="921.3" y1="31" x2="921.3" y2="462" stroke="#1c1c1c" stroke-width="1.25" />
<line x1="1424.4" y1="31" x2="1424.4" y2="242.2" stroke="#1c1c1c" stroke-width="1.25" />
<line x1="921.3" y1="35.2" x2="1150" y2="35.2" stroke="#1c1c1c" stroke-width="1.25" />
<line x1="1194" y1="35.2" x2="1424.4" y2="35.2" stroke="#1c1c1c" stroke-width="1.25" />
<path d="M921.8,35.2 L927.2,33.85 L928.55,32.5 L935.3,32.5 L935.3,37.9 L928.55,37.9 L927.2,36.55 Z" fill="#1c1c1c"/>
<path d="M1423.9,35.2 L1418.5,36.55 L1417.15,37.9 L1410.4,37.9 L1410.4,32.5 L1417.15,32.5 L1418.5,33.85 Z" fill="#1c1c1c"/>
<rect x="1152.9" y="25.4" width="39.2" height="20.5" fill="#fff"/>
<text x="1153.9" y="44.9" font-family="Liberation Serif" font-size="27.61" font-weight="normal" textLength="37.2" lengthAdjust="spacingAndGlyphs" fill="#1c1c1c" stroke="#1c1c1c" stroke-width="0.8" >541</text>
<line x1="979.4" y1="77" x2="979.4" y2="178" stroke="#1c1c1c" stroke-width="1.25" />
<line x1="1305.8" y1="77" x2="1305.8" y2="164.3" stroke="#1c1c1c" stroke-width="1.25" />
<line x1="979.4" y1="80.6" x2="1120" y2="80.6" stroke="#1c1c1c" stroke-width="1.25" />
<line x1="1165" y1="80.6" x2="1305.8" y2="80.6" stroke="#1c1c1c" stroke-width="1.25" />
<path d="M979.9,80.6 L985.3,79.25 L986.65,77.9 L993.4,77.9 L993.4,83.3 L986.65,83.3 L985.3,81.95 Z" fill="#1c1c1c"/>
<path d="M1305.3,80.6 L1299.9,81.95 L1298.55,83.3 L1291.8,83.3 L1291.8,77.9 L1298.55,77.9 L1299.9,79.25 Z" fill="#1c1c1c"/>
<rect x="1122.7" y="69.9" width="40" height="21" fill="#fff"/>
<text x="1123.7" y="89.9" font-family="Liberation Serif" font-size="28.36" font-weight="normal" textLength="38" lengthAdjust="spacingAndGlyphs" fill="#1c1c1c" stroke="#1c1c1c" stroke-width="0.8" >350</text>
<line x1="739.5" y1="122.3" x2="739.5" y2="1133.3" stroke="#1c1c1c" stroke-width="1.25" />
<line x1="739.5" y1="122.3" x2="1035.5" y2="122.3" stroke="#1c1c1c" stroke-width="1.25" />
<line x1="1263.2" y1="122.5" x2="1466" y2="122.5" stroke="#1c1c1c" stroke-width="1.25" />
<line x1="739.5" y1="1133.3" x2="957.8" y2="1133.3" stroke="#1c1c1c" stroke-width="1.25" />
<path d="M739.5,122.8 L740.85,128.2 L742.2,129.55 L742.2,136.3 L736.8,136.3 L736.8,129.55 L738.15,128.2 Z" fill="#1c1c1c"/>
<path d="M739.5,1132.8 L738.15,1127.4 L736.8,1126.05 L736.8,1119.3 L742.2,1119.3 L742.2,1126.05 L740.85,1127.4 Z" fill="#1c1c1c"/>
<rect x="718.9" y="666.9" width="40.3" height="21" fill="#fff"/>
<text x="719.9" y="686.9" font-family="Liberation Serif" font-size="28.36" font-weight="normal" textLength="38.3" lengthAdjust="spacingAndGlyphs" fill="#1c1c1c" stroke="#1c1c1c" stroke-width="0.8" >980</text>
<line x1="1466" y1="122.5" x2="1466" y2="249.2" stroke="#1c1c1c" stroke-width="1.25" />
<line x1="1406.5" y1="249.2" x2="1466" y2="249.2" stroke="#1c1c1c" stroke-width="1.25" />
<path d="M1466,123 L1467.35,128.4 L1468.7,129.75 L1468.7,136.5 L1463.3,136.5 L1463.3,129.75 L1464.65,128.4 Z" fill="#1c1c1c"/>
<path d="M1466,248.7 L1464.65,243.3 L1463.3,241.95 L1463.3,235.2 L1468.7,235.2 L1468.7,241.95 L1467.35,243.3 Z" fill="#1c1c1c"/>
<rect x="1447.9" y="175.1" width="38.1" height="21.3" fill="#fff"/>
<text x="1448.9" y="195.4" font-family="Liberation Serif" font-size="28.81" font-weight="normal" textLength="36.1" lengthAdjust="spacingAndGlyphs" fill="#1c1c1c" stroke="#1c1c1c" stroke-width="0.8" >136</text>
<line x1="970.5" y1="178" x2="970.5" y2="463" stroke="#1c1c1c" stroke-width="1.25" />
<line x1="988.3" y1="178" x2="988.3" y2="463" stroke="#1c1c1c" stroke-width="1.25" />
<line x1="970.5" y1="178" x2="988.3" y2="178" stroke="#1c1c1c" stroke-width="1.25" />
<path d="M970.5,178 A65,65 0 0 1 1035.5,113.4 H1263.2 A51,51 0 0 1 1314.2,164.3" stroke="#1c1c1c" stroke-width="1.3" fill="none" />
<path d="M988.3,178 A47.2,47.2 0 0 1 1035.5,131.2 H1263.2 A33.1,33.1 0 0 1 1296.3,164.3" stroke="#1c1c1c" stroke-width="1.3" fill="none" />
<line x1="1035.5" y1="113.4" x2="1035.5" y2="131.2" stroke="#1c1c1c" stroke-width="1.25" />
<line x1="1263.2" y1="113.4" x2="1263.2" y2="131.2" stroke="#1c1c1c" stroke-width="1.25" />
<line x1="1296.05" y1="164.3" x2="1314.55" y2="164.3" stroke="#1c1c1c" stroke-width="1.25" />
<line x1="1296.05" y1="164.3" x2="1296.05" y2="191" stroke="#1c1c1c" stroke-width="1.25" />
<line x1="1314.55" y1="164.3" x2="1314.55" y2="191" stroke="#1c1c1c" stroke-width="1.25" />
<rect x="1293" y="191" width="24.7" height="17.5" stroke="#1c1c1c" stroke-width="1.5" fill="none" />
<line x1="1303.7" y1="192" x2="1303.7" y2="207.5" stroke="#1c1c1c" stroke-width="1.1" />
<line x1="1306.7" y1="192" x2="1306.7" y2="207.5" stroke="#1c1c1c" stroke-width="1.1" />
<rect x="1296" y="208.5" width="18.8" height="6.1" stroke="#1c1c1c" stroke-width="1.4" fill="none" />
<line x1="1296.3" y1="214.6" x2="1314.3" y2="214.6" stroke="#1c1c1c" stroke-width="2.2" />
<path d="M1288.3,217 H1324.1 V223.3 C1324.3,230 1328.3,234.6 1334.6,235.2 M1288.3,217 V223.3 C1288.3,230 1282.3,234.6 1275.7,235.2" stroke="#1c1c1c" stroke-width="1.3" fill="none" />
<line x1="1288.3" y1="223.3" x2="1324.1" y2="223.3" stroke="#1c1c1c" stroke-width="1.1" />
<rect x="1186.8" y="235.9" width="238" height="7.2" stroke="#1c1c1c" stroke-width="1.7" fill="none" />
<line x1="1186.8" y1="243.3" x2="1424.8" y2="243.3" stroke="#1c1c1c" stroke-width="2.2" />
<line x1="1197.3" y1="244.3" x2="1413.3" y2="244.3" stroke="#1c1c1c" stroke-width="1.2" />
<rect x="1205.3" y="243.8" width="4" height="5" fill="#1c1c1c"/>
<rect x="1206.5" y="245.6" width="1.6" height="1.2" fill="#fff"/>
<rect x="1211.3" y="243.8" width="6" height="5" fill="#1c1c1c"/>
<rect x="1212.5" y="245.6" width="3.6" height="1.2" fill="#fff"/>
<rect x="1218.8" y="243.8" width="6" height="5" fill="#1c1c1c"/>
<rect x="1220" y="245.6" width="3.6" height="1.2" fill="#fff"/>
<rect x="1226.8" y="243.8" width="8" height="5" fill="#1c1c1c"/>
<rect x="1228" y="245.6" width="5.6" height="1.2" fill="#fff"/>
<rect x="1236.8" y="243.8" width="5" height="5" fill="#1c1c1c"/>
<rect x="1238" y="245.6" width="2.6" height="1.2" fill="#fff"/>
<rect x="1242.4" y="243.8" width="3" height="5" fill="#1c1c1c"/>
<rect x="1243.6" y="245.6" width="0.6" height="1.2" fill="#fff"/>
<rect x="1246.9" y="243.8" width="4" height="5" fill="#1c1c1c"/>
<rect x="1248.1" y="245.6" width="1.6" height="1.2" fill="#fff"/>
<rect x="1251.9" y="243.8" width="4" height="5" fill="#1c1c1c"/>
<rect x="1253.1" y="245.6" width="1.6" height="1.2" fill="#fff"/>
<rect x="1256.5" y="243.8" width="6" height="5" fill="#1c1c1c"/>
<rect x="1257.7" y="245.6" width="3.6" height="1.2" fill="#fff"/>
<rect x="1264.5" y="243.8" width="8" height="5" fill="#1c1c1c"/>
<rect x="1265.7" y="245.6" width="5.6" height="1.2" fill="#fff"/>
<rect x="1274" y="243.8" width="5" height="5" fill="#1c1c1c"/>
<rect x="1275.2" y="245.6" width="2.6" height="1.2" fill="#fff"/>
<rect x="1280.5" y="243.8" width="6" height="5" fill="#1c1c1c"/>
<rect x="1281.7" y="245.6" width="3.6" height="1.2" fill="#fff"/>
<rect x="1288" y="243.8" width="8" height="5" fill="#1c1c1c"/>
<rect x="1289.2" y="245.6" width="5.6" height="1.2" fill="#fff"/>
<rect x="1298" y="243.8" width="5" height="5" fill="#1c1c1c"/>
<rect x="1299.2" y="245.6" width="2.6" height="1.2" fill="#fff"/>
<rect x="1303.6" y="243.8" width="8" height="5" fill="#1c1c1c"/>
<rect x="1304.8" y="245.6" width="5.6" height="1.2" fill="#fff"/>
<rect x="1312.6" y="243.8" width="8" height="5" fill="#1c1c1c"/>
<rect x="1313.8" y="245.6" width="5.6" height="1.2" fill="#fff"/>
<rect x="1322.1" y="243.8" width="5" height="5" fill="#1c1c1c"/>
<rect x="1323.3" y="245.6" width="2.6" height="1.2" fill="#fff"/>
<rect x="1329.1" y="243.8" width="6" height="5" fill="#1c1c1c"/>
<rect x="1330.3" y="245.6" width="3.6" height="1.2" fill="#fff"/>
<rect x="1337.1" y="243.8" width="8" height="5" fill="#1c1c1c"/>
<rect x="1338.3" y="245.6" width="5.6" height="1.2" fill="#fff"/>
<rect x="1347.1" y="243.8" width="8" height="5" fill="#1c1c1c"/>
<rect x="1348.3" y="245.6" width="5.6" height="1.2" fill="#fff"/>
<rect x="1356.1" y="243.8" width="4" height="5" fill="#1c1c1c"/>
<rect x="1357.3" y="245.6" width="1.6" height="1.2" fill="#fff"/>
<rect x="1362.1" y="243.8" width="6" height="5" fill="#1c1c1c"/>
<rect x="1363.3" y="245.6" width="3.6" height="1.2" fill="#fff"/>
<rect x="1368.7" y="243.8" width="3" height="5" fill="#1c1c1c"/>
<rect x="1369.9" y="245.6" width="0.6" height="1.2" fill="#fff"/>
<rect x="1373.7" y="243.8" width="4" height="5" fill="#1c1c1c"/>
<rect x="1374.9" y="245.6" width="1.6" height="1.2" fill="#fff"/>
<rect x="1379.2" y="243.8" width="3" height="5" fill="#1c1c1c"/>
<rect x="1380.4" y="245.6" width="0.6" height="1.2" fill="#fff"/>
<rect x="1383.2" y="243.8" width="6" height="5" fill="#1c1c1c"/>
<rect x="1384.4" y="245.6" width="3.6" height="1.2" fill="#fff"/>
<rect x="1391.2" y="243.8" width="6" height="5" fill="#1c1c1c"/>
<rect x="1392.4" y="245.6" width="3.6" height="1.2" fill="#fff"/>
<rect x="1398.7" y="243.8" width="3" height="5" fill="#1c1c1c"/>
<rect x="1399.9" y="245.6" width="0.6" height="1.2" fill="#fff"/>
<rect x="1402.3" y="243.8" width="8" height="5" fill="#1c1c1c"/>
<rect x="1403.5" y="245.6" width="5.6" height="1.2" fill="#fff"/>
<rect x="921.8" y="463.1" width="80.6" height="38.5" stroke="#1c1c1c" stroke-width="1.3" fill="#fff" />
<path d="M970.2,463.1 Q979.3,469.5 988.4,463.1" stroke="#1c1c1c" stroke-width="1.3" fill="#fff" />
<path d="M969.4,501.6 Q979.9,495 990.5,501.6" stroke="#1c1c1c" stroke-width="1.3" fill="#fff" />
<line x1="865.7" y1="488.2" x2="921.8" y2="488.2" stroke="#1c1c1c" stroke-width="1.25" />
<line x1="865.5" y1="488.2" x2="865.5" y2="1133.3" stroke="#1c1c1c" stroke-width="1.25" />
<path d="M865.5,488.7 L866.85,494.1 L868.2,495.45 L868.2,502.2 L862.8,502.2 L862.8,495.45 L864.15,494.1 Z" fill="#1c1c1c"/>
<path d="M865.5,1132.8 L864.15,1127.4 L862.8,1126.05 L862.8,1119.3 L868.2,1119.3 L868.2,1126.05 L866.85,1127.4 Z" fill="#1c1c1c"/>
<rect x="846.1" y="801.1" width="39.7" height="20.8" fill="#fff"/>
<text x="847.1" y="820.9" font-family="Liberation Serif" font-size="28.06" font-weight="normal" textLength="37.7" lengthAdjust="spacingAndGlyphs" fill="#1c1c1c" stroke="#1c1c1c" stroke-width="0.8" >750</text>
<line x1="969.5" y1="501.6" x2="969.5" y2="1116.2" stroke="#1c1c1c" stroke-width="1.25" />
<line x1="990.5" y1="501.6" x2="990.5" y2="1116.2" stroke="#1c1c1c" stroke-width="1.25" />
<path d="M1003.3,477.4 L1014.5,481.4 L997.8,575.6 L991,578.7 L990.7,561.4 Z" stroke="#1c1c1c" stroke-width="2.0" fill="#fff" />
<path d="M1008.8,480.5 L995.2,567" stroke="#1c1c1c" stroke-width="2.8" fill="none" stroke-dasharray="4 2.6"/>
<line x1="990.9" y1="561.4" x2="998.3" y2="560.5" stroke="#1c1c1c" stroke-width="1.5" />
<path d="M1001.8,480.4 L990.7,527 M999.8,480.5 L990.7,518" stroke="#1c1c1c" stroke-width="1.0" fill="none" />
<path d="M968.6,580 L967.8,612 L965.4,684.8 L969.5,684.8" stroke="#1c1c1c" stroke-width="1.2" fill="none" />
<line x1="990.5" y1="668" x2="991" y2="684" stroke="#1c1c1c" stroke-width="1.0" />
<rect x="972.5" y="677.6" width="14.6" height="6.7" stroke="#1c1c1c" stroke-width="1.3" fill="#fff" />
<circle cx="979.4" cy="703.6" r="18.6" stroke="#1c1c1c" stroke-width="2.6" fill="#fff" />
<rect x="961.4" y="884.4" width="35.1" height="2.6" fill="#1c1c1c"/>
<line x1="958.8" y1="886.8" x2="1135.5" y2="886.8" stroke="#1c1c1c" stroke-width="1.6" />
<line x1="958.8" y1="897.6" x2="1135.5" y2="897.6" stroke="#1c1c1c" stroke-width="1.8" />
<line x1="958.8" y1="886.8" x2="958.8" y2="940.3" stroke="#1c1c1c" stroke-width="1.25" />
<line x1="1115.5" y1="886.8" x2="1115.5" y2="940.3" stroke="#1c1c1c" stroke-width="1.25" />
<line x1="976.2" y1="886.8" x2="976.2" y2="897.6" stroke="#1c1c1c" stroke-width="1.1" />
<line x1="1014.6" y1="886.8" x2="1014.6" y2="897.6" stroke="#1c1c1c" stroke-width="1.1" />
<rect x="963.2" y="897.6" width="31.5" height="12.4" stroke="#1c1c1c" stroke-width="1.3" fill="#fff" />
<rect x="962.5" y="909.6" width="12.3" height="2.9" stroke="#1c1c1c" stroke-width="1.2" fill="#fff" />
<rect x="983.5" y="909.6" width="13" height="2.9" stroke="#1c1c1c" stroke-width="1.2" fill="#fff" />
<line x1="1135.5" y1="827" x2="1135.5" y2="898.4" stroke="#1c1c1c" stroke-width="1.25" />
<path d="M1135.5,886.3 L1134.5,882.7 L1133.5,881.8 L1133.5,877.3 L1137.5,877.3 L1137.5,881.8 L1136.5,882.7 Z" fill="#1c1c1c"/>
<line x1="958.8" y1="937.5" x2="1115.2" y2="937.5" stroke="#1c1c1c" stroke-width="1.25" />
<path d="M959.3,937.5 L964.7,936.15 L966.05,934.8 L972.8,934.8 L972.8,940.2 L966.05,940.2 L964.7,938.85 Z" fill="#1c1c1c"/>
<path d="M1114.7,937.5 L1109.3,938.85 L1107.95,940.2 L1101.2,940.2 L1101.2,934.8 L1107.95,934.8 L1109.3,936.15 Z" fill="#1c1c1c"/>
<rect x="1018.3" y="916.1" width="38.9" height="21.1" fill="#fff"/>
<text x="1019.3" y="936.2" font-family="Liberation Serif" font-size="28.51" font-weight="normal" textLength="36.9" lengthAdjust="spacingAndGlyphs" fill="#1c1c1c" stroke="#1c1c1c" stroke-width="0.8" >169</text>
<text x="0" y="0" font-family="Liberation Serif" font-size="27" textLength="22.4" lengthAdjust="spacingAndGlyphs" fill="#1c1c1c" stroke="#1c1c1c" stroke-width="0.5" transform="translate(1134.8,851.6) rotate(-90)">13</text>
<path d="M991,850 L992,886" stroke="#1c1c1c" stroke-width="1.0" fill="none" />
<polygon points="990.5,912.5 990.8,1000 991.3,1062 993.8,1094.5 1000.2,1135.5 1014.4,1135.5 1009,1094.5 1004.3,1045.9 999.8,997 995.8,948.6 993.8,912.5" fill="#fff" stroke="#1c1c1c" stroke-width="1.2"/>
<line x1="990.51" y1="916" x2="994.08" y2="917.5" stroke="#1c1c1c" stroke-width="1.1" />
<line x1="990.52" y1="919.6" x2="994.28" y2="921.1" stroke="#1c1c1c" stroke-width="1.1" />
<line x1="990.54" y1="923.2" x2="994.48" y2="924.7" stroke="#1c1c1c" stroke-width="1.1" />
<line x1="990.55" y1="926.8" x2="994.68" y2="928.3" stroke="#1c1c1c" stroke-width="1.1" />
<line x1="990.56" y1="930.4" x2="994.87" y2="931.9" stroke="#1c1c1c" stroke-width="1.1" />
<line x1="990.57" y1="934" x2="995.07" y2="935.5" stroke="#1c1c1c" stroke-width="1.1" />
<line x1="990.59" y1="937.6" x2="995.27" y2="939.1" stroke="#1c1c1c" stroke-width="1.1" />
<line x1="990.6" y1="941.2" x2="995.47" y2="942.7" stroke="#1c1c1c" stroke-width="1.1" />
<line x1="990.61" y1="944.8" x2="995.67" y2="946.3" stroke="#1c1c1c" stroke-width="1.1" />
<line x1="990.62" y1="948.4" x2="995.91" y2="949.9" stroke="#1c1c1c" stroke-width="1.1" />
<line x1="990.64" y1="952" x2="996.2" y2="953.5" stroke="#1c1c1c" stroke-width="1.1" />
<line x1="990.65" y1="955.6" x2="996.5" y2="957.1" stroke="#1c1c1c" stroke-width="1.1" />
<line x1="990.66" y1="959.2" x2="996.8" y2="960.7" stroke="#1c1c1c" stroke-width="1.1" />
<line x1="990.67" y1="962.8" x2="997.1" y2="964.3" stroke="#1c1c1c" stroke-width="1.1" />
<line x1="990.68" y1="966.4" x2="997.4" y2="967.9" stroke="#1c1c1c" stroke-width="1.1" />
<line x1="990.7" y1="970" x2="997.69" y2="971.5" stroke="#1c1c1c" stroke-width="1.1" />
<line x1="990.71" y1="973.6" x2="997.99" y2="975.1" stroke="#1c1c1c" stroke-width="1.1" />
<line x1="990.72" y1="977.2" x2="998.29" y2="978.7" stroke="#1c1c1c" stroke-width="1.1" />
<line x1="990.73" y1="980.8" x2="998.59" y2="982.3" stroke="#1c1c1c" stroke-width="1.1" />
<line x1="990.75" y1="984.4" x2="998.88" y2="985.9" stroke="#1c1c1c" stroke-width="1.1" />
<line x1="990.76" y1="988" x2="999.18" y2="989.5" stroke="#1c1c1c" stroke-width="1.1" />
<line x1="990.77" y1="991.6" x2="999.48" y2="993.1" stroke="#1c1c1c" stroke-width="1.1" />
<line x1="990.78" y1="995.2" x2="999.78" y2="996.7" stroke="#1c1c1c" stroke-width="1.1" />
<line x1="990.8" y1="998.8" x2="1000.1" y2="1000.3" stroke="#1c1c1c" stroke-width="1.1" />
<line x1="990.82" y1="1002.4" x2="1000.43" y2="1003.9" stroke="#1c1c1c" stroke-width="1.1" />
<line x1="990.85" y1="1006" x2="1000.77" y2="1007.5" stroke="#1c1c1c" stroke-width="1.1" />
<line x1="990.88" y1="1009.6" x2="1001.1" y2="1011.1" stroke="#1c1c1c" stroke-width="1.1" />
<line x1="990.91" y1="1013.2" x2="1001.43" y2="1014.7" stroke="#1c1c1c" stroke-width="1.1" />
<line x1="990.94" y1="1016.8" x2="1001.76" y2="1018.3" stroke="#1c1c1c" stroke-width="1.1" />
<line x1="990.96" y1="1020.4" x2="1002.09" y2="1021.9" stroke="#1c1c1c" stroke-width="1.1" />
<line x1="990.99" y1="1024" x2="1002.42" y2="1025.5" stroke="#1c1c1c" stroke-width="1.1" />
<line x1="991.02" y1="1027.6" x2="1002.75" y2="1029.1" stroke="#1c1c1c" stroke-width="1.1" />
<line x1="991.05" y1="1031.2" x2="1003.09" y2="1032.7" stroke="#1c1c1c" stroke-width="1.1" />
<line x1="991.08" y1="1034.8" x2="1003.42" y2="1036.3" stroke="#1c1c1c" stroke-width="1.1" />
<line x1="991.11" y1="1038.4" x2="1003.75" y2="1039.9" stroke="#1c1c1c" stroke-width="1.1" />
<line x1="991.14" y1="1042" x2="1004.08" y2="1043.5" stroke="#1c1c1c" stroke-width="1.1" />
<line x1="991.17" y1="1045.6" x2="1004.42" y2="1047.1" stroke="#1c1c1c" stroke-width="1.1" />
<line x1="991.2" y1="1049.2" x2="1004.76" y2="1050.7" stroke="#1c1c1c" stroke-width="1.1" />
<line x1="991.23" y1="1052.8" x2="1005.11" y2="1054.3" stroke="#1c1c1c" stroke-width="1.1" />
<line x1="991.25" y1="1056.4" x2="1005.46" y2="1057.9" stroke="#1c1c1c" stroke-width="1.1" />
<line x1="991.28" y1="1060" x2="1005.81" y2="1061.5" stroke="#1c1c1c" stroke-width="1.1" />
<line x1="991.42" y1="1063.6" x2="1006.16" y2="1065.1" stroke="#1c1c1c" stroke-width="1.1" />
<line x1="991.7" y1="1067.2" x2="1006.5" y2="1068.7" stroke="#1c1c1c" stroke-width="1.1" />
<line x1="991.98" y1="1070.8" x2="1006.85" y2="1072.3" stroke="#1c1c1c" stroke-width="1.1" />
<line x1="992.25" y1="1074.4" x2="1007.2" y2="1075.9" stroke="#1c1c1c" stroke-width="1.1" />
<line x1="992.53" y1="1078" x2="1007.55" y2="1079.5" stroke="#1c1c1c" stroke-width="1.1" />
<line x1="992.81" y1="1081.6" x2="1007.9" y2="1083.1" stroke="#1c1c1c" stroke-width="1.1" />
<line x1="993.08" y1="1085.2" x2="1008.25" y2="1086.7" stroke="#1c1c1c" stroke-width="1.1" />
<line x1="993.36" y1="1088.8" x2="1008.59" y2="1090.3" stroke="#1c1c1c" stroke-width="1.1" />
<line x1="993.64" y1="1092.4" x2="1008.94" y2="1093.9" stroke="#1c1c1c" stroke-width="1.1" />
<line x1="994.03" y1="1096" x2="1009.4" y2="1097.5" stroke="#1c1c1c" stroke-width="1.1" />
<line x1="994.6" y1="1099.6" x2="1009.87" y2="1101.1" stroke="#1c1c1c" stroke-width="1.1" />
<line x1="995.16" y1="1103.2" x2="1010.34" y2="1104.7" stroke="#1c1c1c" stroke-width="1.1" />
<line x1="995.72" y1="1106.8" x2="1010.82" y2="1108.3" stroke="#1c1c1c" stroke-width="1.1" />
<line x1="996.28" y1="1110.4" x2="1011.29" y2="1111.9" stroke="#1c1c1c" stroke-width="1.1" />
<line x1="996.84" y1="1114" x2="1011.77" y2="1115.5" stroke="#1c1c1c" stroke-width="1.1" />
<line x1="997.41" y1="1117.6" x2="1012.24" y2="1119.1" stroke="#1c1c1c" stroke-width="1.1" />
<line x1="997.97" y1="1121.2" x2="1012.71" y2="1122.7" stroke="#1c1c1c" stroke-width="1.1" />
<line x1="998.53" y1="1124.8" x2="1013.19" y2="1126.3" stroke="#1c1c1c" stroke-width="1.1" />
<line x1="999.09" y1="1128.4" x2="1013.66" y2="1129.9" stroke="#1c1c1c" stroke-width="1.1" />
<line x1="999.65" y1="1132" x2="1014.14" y2="1133.5" stroke="#1c1c1c" stroke-width="1.1" />
<rect x="966.3" y="1116.2" width="27" height="15.8" stroke="#1c1c1c" stroke-width="1.4" fill="#fff" />
<line x1="977.4" y1="1118" x2="977.4" y2="1131" stroke="#1c1c1c" stroke-width="1.1" />
<line x1="984.1" y1="1118" x2="984.1" y2="1131" stroke="#1c1c1c" stroke-width="1.1" />
<rect x="964.5" y="1132" width="30" height="4" stroke="#1c1c1c" stroke-width="1.1" fill="none" />
<rect x="921.3" y="1135.8" width="104.7" height="40.8" stroke="#1c1c1c" stroke-width="1.4" fill="#fff" />
<path d="M921.3,1170.5 H989 L995,1176.6" stroke="#1c1c1c" stroke-width="1.1" fill="none" />
<rect x="1026" y="1141" width="1.5" height="29" stroke="#1c1c1c" stroke-width="1.0" fill="none" />
<rect x="892.3" y="1152.9" width="25.7" height="6.1" stroke="#1c1c1c" stroke-width="1.2" fill="#fff" />
<line x1="895" y1="1156" x2="915" y2="1156" stroke="#1c1c1c" stroke-width="1.5" />
<rect x="918" y="1152" width="3.3" height="8" fill="#1c1c1c"/>
<rect x="940.2" y="1177.2" width="17.6" height="9.5" fill="#1c1c1c"/>
<rect x="972" y="1177.2" width="17.5" height="9.5" fill="#1c1c1c"/>
<rect x="942.2" y="1186.7" width="14.2" height="16.9" stroke="#1c1c1c" stroke-width="1.3" fill="none" />
<rect x="974" y="1186.7" width="13.5" height="16.9" stroke="#1c1c1c" stroke-width="1.3" fill="none" />
<path d="M949.3,1203.6 C949.08,1211.33 948.55,1233.93 948,1250 C947.45,1266.07 945.83,1285.83 946,1300 C946.17,1314.17 947,1326.33 949,1335 C951,1343.67 954,1347.5 958,1352 C962,1356.5 970.5,1360.33 973,1362" stroke="#1c1c1c" stroke-width="14" fill="none" stroke-linecap="butt"/>
<path d="M949.3,1203.6 C949.08,1211.33 948.55,1233.93 948,1250 C947.45,1266.07 945.83,1285.83 946,1300 C946.17,1314.17 947,1326.33 949,1335 C951,1343.67 954,1347.5 958,1352 C962,1356.5 970.5,1360.33 973,1362" stroke="#fff" stroke-width="11.4" fill="none" stroke-linecap="butt"/>
<path d="M955.17,1204.66 L943.31,1206.94 M955.06,1209.05 L943.19,1211.34 M954.94,1213.45 L943.08,1215.74 M954.83,1217.85 L942.97,1220.14 M954.71,1222.25 L942.85,1224.53 M954.6,1226.65 L942.73,1228.93 M954.48,1231.06 L942.61,1233.32 M954.35,1235.46 L942.48,1237.72 M954.22,1239.87 L942.35,1242.11 M954.09,1244.28 L942.21,1246.49 M953.95,1248.68 L942.07,1250.88 M953.79,1253.13 L941.89,1255.22 M953.59,1257.56 L941.68,1259.59 M953.37,1261.98 L941.45,1263.95 M953.14,1266.38 L941.22,1268.34 M952.9,1270.78 L940.98,1272.73 M952.67,1275.16 L940.75,1277.14 M952.45,1279.53 L940.54,1281.56 M952.24,1283.88 L940.35,1286 M952.08,1288.23 L940.2,1290.45 M951.95,1292.54 L940.11,1294.93 M951.89,1296.82 L940.09,1299.45 M951.91,1301.13 L940.16,1303.94 M952,1305.46 L940.28,1308.4 M952.14,1309.76 L940.47,1312.9 M952.35,1314.07 L940.73,1317.38 M952.63,1318.33 L941.09,1321.9 M953.01,1322.55 L941.57,1326.43 M953.49,1326.69 L942.22,1331.02 M954.13,1330.74 L943.09,1335.64 M954.93,1334.57 L944.33,1340.36 M956.04,1338.2 L946.08,1345.05 M957.41,1341.38 L948.67,1349.73 M959.36,1344.45 L951.77,1353.85 M961.77,1347.43 L955.12,1357.52 M964.19,1349.76 L959.42,1360.86 M967.42,1351.99 L963.55,1363.44 M971.01,1354.1 L967.6,1365.69" stroke="#1c1c1c" stroke-width="1.35" fill="none"/>
<path d="M981.2,1203.6 C981.2,1215.25 981.2,1261.85 981.2,1273.5" stroke="#1c1c1c" stroke-width="13.5" fill="none" stroke-linecap="butt"/>
<path d="M981.2,1203.6 C981.2,1215.25 981.2,1261.85 981.2,1273.5" stroke="#fff" stroke-width="10.9" fill="none" stroke-linecap="butt"/>
<path d="M986.85,1204.62 L975.55,1206.88 M986.85,1208.92 L975.55,1211.18 M986.85,1213.22 L975.55,1215.48 M986.85,1217.52 L975.55,1219.78 M986.85,1221.82 L975.55,1224.08 M986.85,1226.12 L975.55,1228.38 M986.85,1230.42 L975.55,1232.68 M986.85,1234.72 L975.55,1236.98 M986.85,1239.02 L975.55,1241.28 M986.85,1243.32 L975.55,1245.58 M986.85,1247.62 L975.55,1249.88 M986.85,1251.92 L975.55,1254.18 M986.85,1256.22 L975.55,1258.48 M986.85,1260.52 L975.55,1262.78 M986.85,1264.82 L975.55,1267.08 M986.85,1269.12 L975.55,1271.38" stroke="#1c1c1c" stroke-width="2.3" fill="none"/>
<path d="M981.2,1282.3 C981.2,1294.12 981.2,1341.38 981.2,1353.2" stroke="#1c1c1c" stroke-width="13.5" fill="none" stroke-linecap="butt"/>
<path d="M981.2,1282.3 C981.2,1294.12 981.2,1341.38 981.2,1353.2" stroke="#fff" stroke-width="10.9" fill="none" stroke-linecap="butt"/>
<path d="M986.85,1283.32 L975.55,1285.58 M986.85,1287.62 L975.55,1289.88 M986.85,1291.92 L975.55,1294.18 M986.85,1296.22 L975.55,1298.48 M986.85,1300.52 L975.55,1302.78 M986.85,1304.82 L975.55,1307.08 M986.85,1309.12 L975.55,1311.38 M986.85,1313.42 L975.55,1315.68 M986.85,1317.72 L975.55,1319.98 M986.85,1322.02 L975.55,1324.28 M986.85,1326.32 L975.55,1328.58 M986.85,1330.62 L975.55,1332.88 M986.85,1334.92 L975.55,1337.18 M986.85,1339.22 L975.55,1341.48 M986.85,1343.52 L975.55,1345.78 M986.85,1347.82 L975.55,1350.08" stroke="#1c1c1c" stroke-width="2.3" fill="none"/>
<path d="M1017,1177 C1018.17,1185.83 1022,1212.83 1024,1230 C1026,1247.17 1028,1265 1029,1280 C1030,1295 1031.17,1309.5 1030,1320 C1028.83,1330.5 1026,1336.83 1022,1343 C1018,1349.17 1011.67,1353.83 1006,1357 C1000.33,1360.17 991,1361.17 988,1362" stroke="#1c1c1c" stroke-width="15" fill="none" stroke-linecap="butt"/>
<path d="M1017,1177 C1018.17,1185.83 1022,1212.83 1024,1230 C1026,1247.17 1028,1265 1029,1280 C1030,1295 1031.17,1309.5 1030,1320 C1028.83,1330.5 1026,1336.83 1022,1343 C1018,1349.17 1011.67,1353.83 1006,1357 C1000.33,1360.17 991,1361.17 988,1362" stroke="#fff" stroke-width="12.4" fill="none" stroke-linecap="butt"/>
<path d="M1023.45,1176.93 L1011.14,1181.43 M1024.04,1181.28 L1011.74,1185.8 M1024.63,1185.63 L1012.33,1190.16 M1025.23,1190 L1012.93,1194.52 M1025.83,1194.36 L1013.53,1198.88 M1026.42,1198.73 L1014.12,1203.23 M1027.01,1203.09 L1014.7,1207.58 M1027.6,1207.47 L1015.28,1211.93 M1028.17,1211.84 L1015.85,1216.29 M1028.74,1216.22 L1016.41,1220.64 M1029.3,1220.6 L1016.95,1224.98 M1029.85,1224.99 L1017.48,1229.33 M1030.37,1229.39 L1017.98,1233.67 M1030.88,1233.77 L1018.49,1238.03 M1031.38,1238.15 L1018.98,1242.39 M1031.88,1242.54 L1019.47,1246.75 M1032.37,1246.93 L1019.94,1251.11 M1032.84,1251.32 L1020.4,1255.46 M1033.3,1255.72 L1020.85,1259.82 M1033.75,1260.13 L1021.27,1264.16 M1034.17,1264.54 L1021.68,1268.51 M1034.57,1268.97 L1022.05,1272.85 M1034.93,1273.4 L1022.39,1277.2 M1035.27,1277.85 L1022.69,1281.52 M1035.56,1282.24 L1022.98,1285.91 M1035.86,1286.64 L1023.28,1290.29 M1036.15,1291.06 L1023.55,1294.66 M1036.42,1295.5 L1023.79,1299 M1036.65,1299.97 L1023.97,1303.32 M1036.82,1304.5 L1024.08,1307.58 M1036.89,1309.05 L1024.08,1311.83 M1036.83,1313.69 L1023.93,1315.99 M1036.59,1318.49 L1023.57,1319.96 M1036.05,1323.21 L1022.97,1323.97 M1035.19,1328.07 L1022.09,1327.74 M1033.92,1332.89 L1020.91,1331.36 M1032.2,1337.57 L1019.38,1334.85 M1030.02,1342.07 L1017.51,1338.17 M1027.5,1346.32 L1015.36,1341.38 M1024.36,1350.53 L1012.98,1344.02 M1020.83,1354.2 L1010.23,1346.5 M1017.03,1357.41 L1007.16,1348.79 M1013.01,1360.26 L1003.89,1350.85 M1008.52,1362.96 L1000.7,1352.44 M1003.68,1364.95 L997.3,1353.5 M998.99,1366.26 L993.46,1354.38 M994.48,1367.22 L989.35,1355.16" stroke="#1c1c1c" stroke-width="1.35" fill="none"/>
<rect x="973.9" y="1353.9" width="13.5" height="14.1" stroke="#1c1c1c" stroke-width="1.3" fill="#fff" />
<rect x="970.2" y="1368.7" width="21.6" height="12.8" stroke="#1c1c1c" stroke-width="1.4" fill="#fff" />
<ellipse cx="976.2" cy="1375" rx="4" ry="5" stroke="#1c1c1c" stroke-width="1.1" fill="none"/>
<ellipse cx="985.8" cy="1375" rx="4" ry="5" stroke="#1c1c1c" stroke-width="1.1" fill="none"/>
<line x1="921.2" y1="1176.6" x2="921.2" y2="1429" stroke="#1c1c1c" stroke-width="1.25" />
<line x1="1027.5" y1="1346" x2="1027.5" y2="1429" stroke="#1c1c1c" stroke-width="1.25" />
<line x1="921.2" y1="1426.1" x2="956" y2="1426.1" stroke="#1c1c1c" stroke-width="1.25" />
<line x1="1000" y1="1426.1" x2="1027.5" y2="1426.1" stroke="#1c1c1c" stroke-width="1.25" />
<path d="M921.7,1426.1 L927.1,1424.75 L928.45,1423.4 L935.2,1423.4 L935.2,1428.8 L928.45,1428.8 L927.1,1427.45 Z" fill="#1c1c1c"/>
<path d="M1027,1426.1 L1021.6,1427.45 L1020.25,1428.8 L1013.5,1428.8 L1013.5,1423.4 L1020.25,1423.4 L1021.6,1424.75 Z" fill="#1c1c1c"/>
<rect x="958.9" y="1416.1" width="39.1" height="20.8" fill="#fff"/>
<text x="959.9" y="1435.9" font-family="Liberation Serif" font-size="28.06" font-weight="normal" textLength="37.1" lengthAdjust="spacingAndGlyphs" fill="#1c1c1c" stroke="#1c1c1c" stroke-width="0.8" >114</text>
</svg></body></html>
